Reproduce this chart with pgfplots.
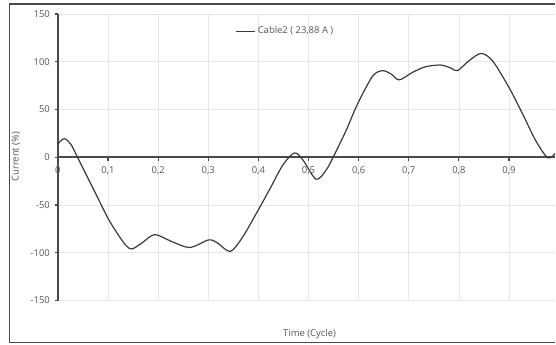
\documentclass[border=0pt]{standalone}
\usepackage{pgfplots}
\pgfplotsset{compat=1.18}
\usepackage{fontspec}
\setmainfont{Open Sans}
\definecolor{txtgray}{HTML}{555555}
\definecolor{axgray}{HTML}{4A4A4A}
\definecolor{gridgray}{HTML}{E6E6E6}
\definecolor{curve}{HTML}{3A3A3A}
\begin{document}
\begin{tikzpicture}
% outer frame and page size (units of 0.75pt)
\begin{scope}[x=0.75pt,y=0.75pt]
  \useasboundingbox (0,0) rectangle (556,345);
  \draw[color=axgray, line width=0.9pt] (556,341) -- (9.5,341) -- (9.5,2) -- (556,2);
  \node[color=txtgray, rotate=90, font=\fontsize{7.1}{7}\selectfont] at (16,188) {Current (\%)};
  \node[color=txtgray, font=\fontsize{7.1}{7}\selectfont] at (310,10) {Time (Cycle)};
\end{scope}
\begin{axis}[
  at={(43.5pt,33pt)}, anchor=south west,
  scale only axis, width=373.5pt, height=215.25pt,
  xmin=0, xmax=0.992, ymin=-150, ymax=150,
  axis x line=middle, axis y line=left,
  axis line style={-, color=axgray, line width=1.3pt},
  hide obscured x ticks=false,
  xtick={0,0.1,...,0.9}, ytick={-150,-100,...,150},
  xticklabel style={color=txtgray, font=\fontsize{7.1}{7}\selectfont, yshift=-1pt},
  yticklabel style={color=txtgray, font=\fontsize{7.1}{7}\selectfont},
  /pgf/number format/assume math mode=true,
  /pgf/number format/use comma,
  x tick label style={/pgf/number format/.cd, fixed, precision=1, use comma},
  tick align=outside, major tick length=2.5pt,
  tick style={color=axgray, line width=0.9pt},
  grid=major, major grid style={color=gridgray, line width=0.6pt},
  clip=true,
  legend style={at={(rel axis cs:0.458,0.975)}, anchor=north, draw=none, fill=none,
    font=\fontsize{7.1}{7}\selectfont, text=txtgray},
  legend image code/.code={\draw[#1, line width=0.6pt] (0cm,0cm) -- (0.5cm,0cm);},
]
% load current of Cable2 over one cycle
\addplot[color=curve, line width=0.9pt, smooth, tension=0.5] coordinates {
(0,14) (0.0126,19.5) (0.026,13.5) (0.039,0) (0.060,-22) (0.080,-43)
(0.100,-64) (0.120,-81) (0.137,-93) (0.148,-96) (0.167,-90) (0.193,-81)
(0.226,-88) (0.263,-94.5) (0.301,-86.5) (0.319,-90) (0.344,-98.6)
(0.368,-84) (0.396,-58.7) (0.422,-34) (0.449,-8) (0.472,4.5) (0.489,-3)
(0.515,-23) (0.535,-13.5) (0.550,1) (0.575,28) (0.598,56) (0.628,85)
(0.648,90.6) (0.665,87) (0.681,81) (0.708,89) (0.734,94.8) (0.764,96.5)
(0.784,93.4) (0.797,90.6) (0.820,101) (0.844,108.6) (0.867,101) (0.900,73)
(0.927,45.5) (0.953,17.7) (0.977,-0.4) (0.992,4)
};
\addlegendentry{Cable2 ( 23,88 A )}
\end{axis}
\end{tikzpicture}
\end{document}
